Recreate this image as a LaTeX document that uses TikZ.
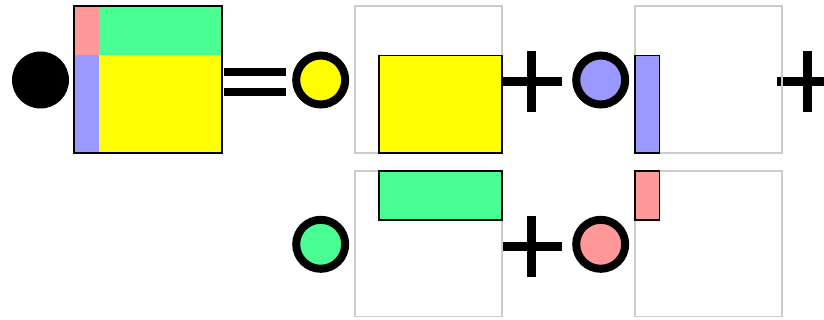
\documentclass[tikz,border=0pt]{standalone}
\definecolor{cpink}{HTML}{FF9999}
\definecolor{cgreen}{HTML}{49FF93}
\definecolor{cblue}{HTML}{9999FF}
\definecolor{cyellow}{HTML}{FFFF00}
\definecolor{cframe}{HTML}{CCCCCC}
\tikzset{
  pbar/.style={line width=8.7pt, line cap=butt},
  ebar/.style={line width=8pt, line cap=butt},
  frame/.style={draw=cframe, line width=1.8pt},
  part/.style={draw=black, line width=1.4pt},
  ring/.style={circle, draw=black, line width=8pt, minimum size=49pt, inner sep=0pt},
}
\begin{document}
\begin{tikzpicture}[x=1pt,y=-1pt]
\useasboundingbox (0,0) rectangle (824,320);
% operators (drawn under the frames)
\coordinate (eq) at (255,82);
\coordinate (p1) at (531.3,81.7);
\coordinate (p2) at (807.4,81.7);
\coordinate (p3) at (531.3,246.4);
\draw[ebar] (eq) ++(-31,-9.7) -- ++(62,0);
\draw[ebar] (eq) ++(-31,9.7) -- ++(62,0);
\foreach \p in {p1,p2,p3}{
  \draw[pbar] (\p) ++(-30.7,0) -- ++(61.4,0);
  \draw[pbar] (\p) ++(0,-30.7) -- ++(0,61.4);
}
% left side
\node[circle, fill=black, minimum size=57pt, inner sep=0pt] (lhs) at (40.5,80) {};
\fill[cpink] (74.3,6.3) rectangle (98.8,55.3);
\fill[cgreen] (98.8,6.3) rectangle (221.7,55.3);
\fill[cblue] (74.3,55.3) rectangle (98.8,153);
\fill[cyellow] (98.8,55.3) rectangle (221.7,153);
\draw[line width=2pt] (74.3,6.3) rectangle (221.7,153);
% frames
\draw[frame] (355,6.2) rectangle (502,153);
\draw[frame] (635,6.2) rectangle (782,153);
\draw[frame] (355,171) rectangle (502,316.5);
\draw[frame] (635,171) rectangle (782,316.5);
% parts
\draw[part, fill=cyellow] (379,55.7) rectangle (502,153);
\draw[part, fill=cblue] (635,55.7) rectangle (659.5,153);
\draw[part, fill=cgreen] (379,171) rectangle (502,220);
\draw[part, fill=cpink] (635,171) rectangle (659.5,220);
% coefficient circles
\node[ring, fill=cyellow] (cy) at (320.7,80) {};
\node[ring, fill=cblue] (cb) at (600.7,80) {};
\node[ring, fill=cgreen] (cg) at (320.7,244.3) {};
\node[ring, fill=cpink] (cp) at (600.7,244.3) {};
\end{tikzpicture}
\end{document}
